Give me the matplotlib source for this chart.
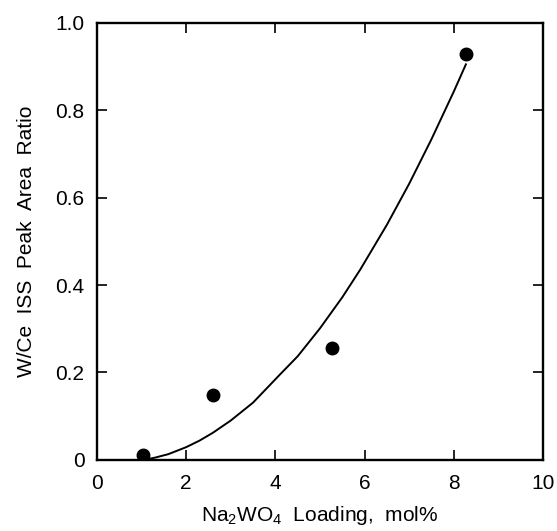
import numpy as np
import matplotlib
matplotlib.use('Agg')
import matplotlib.pyplot as plt

# measured points
loading = [1.03, 2.61, 5.28, 8.27]
ratio = [0.011, 0.149, 0.256, 0.928]

# fitted curve
curve_x = [1.05, 1.3, 1.6, 2.0, 2.3, 2.6, 3.0, 3.5, 4.1, 4.5, 5.0, 5.5, 5.9, 6.5, 7.0, 7.5, 8.0, 8.27]
curve_y = [0.0, 0.005, 0.013, 0.029, 0.044, 0.062, 0.090, 0.131, 0.195, 0.237, 0.301, 0.372, 0.435, 0.538, 0.632, 0.734, 0.843, 0.905]

xticks = [0, 2, 4, 6, 8, 10]
xticklabels = ['0', '2', '4', '6', '8', '10']
yticks = [0, 0.2, 0.4, 0.6, 0.8, 1.0]
yticklabels = ['0', '0.2', '0.4', '0.6', '0.8', '1.0']

plt.rcParams['font.family'] = ['Liberation Sans', 'DejaVu Sans']
plt.rcParams['mathtext.fontset'] = 'custom'
plt.rcParams['mathtext.rm'] = 'Liberation Sans'
plt.rcParams['mathtext.it'] = 'Liberation Sans'

fig = plt.figure(figsize=(5.57, 5.31), dpi=100)
ax = fig.add_axes([0.174, 0.134, 0.801, 0.823])

ax.plot(curve_x, curve_y, color='black', lw=1.4)
ax.plot(loading, ratio, 'o', color='black', markersize=9)

ax.set_xlim(0, 10)
ax.set_ylim(0, 1.0)
ax.set_xticks(xticks)
ax.set_xticklabels(xticklabels)
ax.set_yticks(yticks)
ax.set_yticklabels(yticklabels)
ax.tick_params(direction='in', length=7, width=1.2, labelsize=15,
               top=True, right=True)
ax.tick_params(axis='x', pad=10)
ax.tick_params(axis='y', pad=9)
for s in ax.spines.values():
    s.set_linewidth(1.7)

ax.set_xlabel(r'Na$_2$WO$_4$  Loading,  mol%', fontsize=15, labelpad=8)
ax.set_ylabel('W/Ce  ISS  Peak  Area  Ratio', fontsize=15, labelpad=14)

fig.savefig('out.png', dpi=100)
